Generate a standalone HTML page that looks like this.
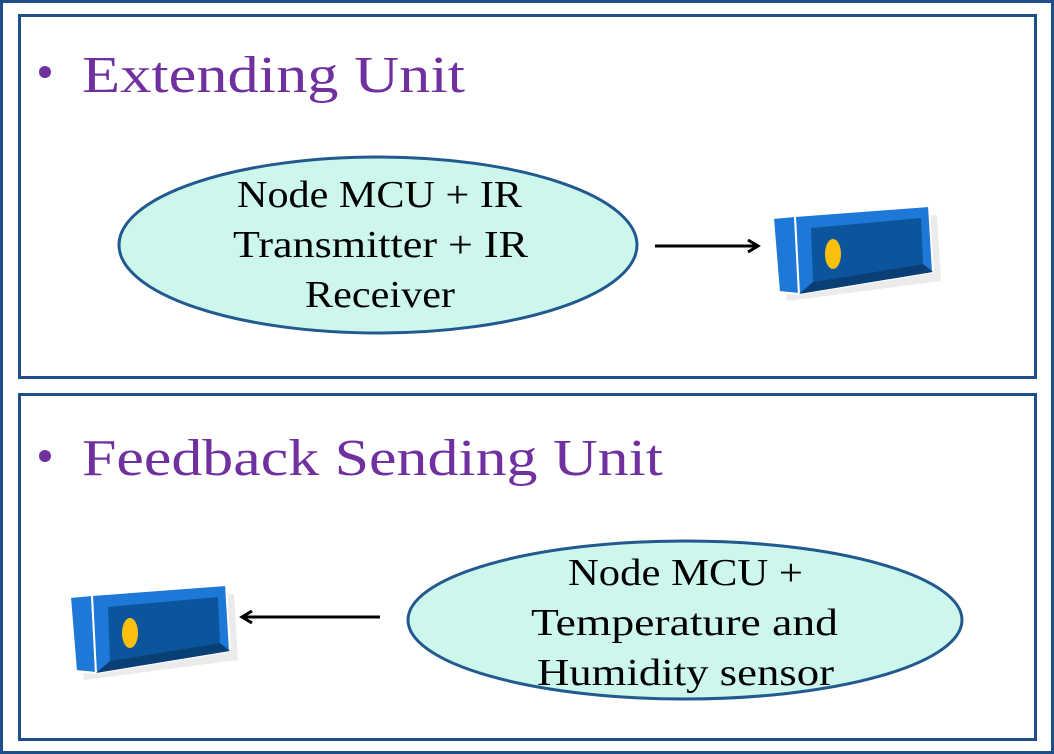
<!DOCTYPE html>
<html><head><style>
body{margin:0;background:#fff;}
svg{display:block;}
text{font-family:"Liberation Serif",serif;}
</style></head><body>
<svg width="1054" height="754" viewBox="0 0 1054 754" xmlns="http://www.w3.org/2000/svg">
<defs>
<marker id="ah" markerWidth="14" markerHeight="14" refX="10" refY="7" orient="auto" markerUnits="userSpaceOnUse">
<path d="M1,1 L11,7 L1,13" fill="none" stroke="#000" stroke-width="3"/>
</marker>
<g id="dev">
<polygon points="4,16 160,4 164,70 10,90" fill="#d8d8d8" opacity="0.5" transform="translate(4,5)"/>
<polygon points="0,12 22,10 26,88 6,86" fill="#1d78d8" stroke="#fff" stroke-width="2"/>
<polygon points="22,10 156,0 160,66 26,88" fill="#1d78d8" stroke="#fff" stroke-width="2"/>
<polygon points="38,22 148,12 150,58 40,76" fill="#0b559c"/>
<polygon points="40,76 150,58 160,66 26,88" fill="#093f75"/>
<ellipse cx="60" cy="48" rx="8" ry="15" fill="#fbbf10"/>
</g>
</defs>
<rect x="1.5" y="1.5" width="1051" height="751" fill="none" stroke="#1f4f8a" stroke-width="3"/>
<rect x="19.5" y="15.5" width="1016" height="362" fill="none" stroke="#1f4f8a" stroke-width="3"/>
<rect x="19.5" y="394.5" width="1016" height="345" fill="none" stroke="#1f4f8a" stroke-width="3"/>

<circle cx="45" cy="72" r="6" fill="#7030a0"/>
<text x="82" y="92" font-size="52" fill="#7030a0" textLength="383" lengthAdjust="spacingAndGlyphs">Extending Unit</text>
<circle cx="45" cy="456" r="6" fill="#7030a0"/>
<text x="82" y="475" font-size="52" fill="#7030a0" textLength="581" lengthAdjust="spacingAndGlyphs">Feedback Sending Unit</text>

<ellipse cx="378" cy="245" rx="259" ry="88" fill="#cdf7ec" stroke="#22598f" stroke-width="3"/>
<g font-size="38" fill="#000">
<text x="237" y="207" textLength="285" lengthAdjust="spacingAndGlyphs">Node MCU + IR</text>
<text x="233" y="257" textLength="295" lengthAdjust="spacingAndGlyphs">Transmitter + IR</text>
<text x="305" y="307" textLength="150" lengthAdjust="spacingAndGlyphs">Receiver</text>
</g>
<ellipse cx="685" cy="620" rx="277" ry="79" fill="#cdf7ec" stroke="#22598f" stroke-width="3"/>
<g font-size="38" fill="#000">
<text x="568" y="585" textLength="235" lengthAdjust="spacingAndGlyphs">Node MCU +</text>
<text x="531" y="635" textLength="307" lengthAdjust="spacingAndGlyphs">Temperature and</text>
<text x="537" y="685" textLength="297" lengthAdjust="spacingAndGlyphs">Humidity sensor</text>
</g>

<line x1="655" y1="246" x2="757" y2="246" stroke="#000" stroke-width="3" marker-end="url(#ah)"/>
<line x1="380" y1="617" x2="243" y2="617" stroke="#000" stroke-width="3" marker-end="url(#ah)"/>

<use href="#dev" x="773" y="206"/>
<use href="#dev" x="70" y="585"/>
</svg>
</body></html>
